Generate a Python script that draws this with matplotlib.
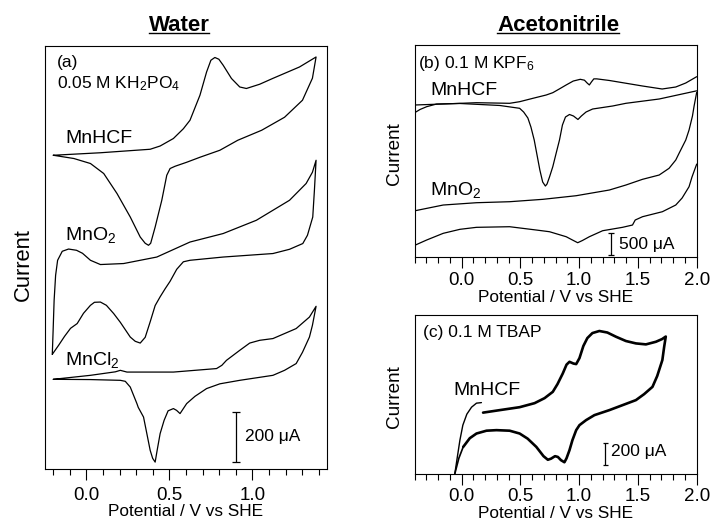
import numpy as np
import matplotlib
matplotlib.use('Agg')
import matplotlib.pyplot as plt
from matplotlib.lines import Line2D
from matplotlib.ticker import MultipleLocator, FuncFormatter

plt.rcParams['font.family'] = ['Liberation Sans', 'DejaVu Sans']
plt.rcParams['mathtext.fontset'] = 'custom'
plt.rcParams['mathtext.rm'] = 'Liberation Sans'
plt.rcParams['mathtext.it'] = 'Liberation Sans:italic'
plt.rcParams['mathtext.bf'] = 'Liberation Sans:bold'

# (E / V vs SHE, current / uA), curves stacked as drawn
# (a) water, 0.05 M KH2PO4
mnhcf_a = [(-0.200, 1256), (0.084, 1266), (0.384, 1280), (0.444, 1293), (0.524, 1323),
           (0.584, 1362), (0.624, 1396), (0.684, 1496), (0.724, 1589), (0.750, 1636),
           (0.774, 1647), (0.798, 1640), (0.824, 1616), (0.874, 1563), (0.924, 1529),
           (0.964, 1523), (1.044, 1540), (1.122, 1563), (1.284, 1609), (1.384, 1649),
           (1.362, 1564), (1.302, 1476), (1.194, 1408), (1.056, 1356), (0.912, 1316),
           (0.804, 1276), (0.684, 1248), (0.604, 1228), (0.534, 1212), (0.504, 1203),
           (0.484, 1176), (0.454, 1076), (0.414, 969), (0.387, 904), (0.374, 896),
           (0.354, 904), (0.324, 929), (0.264, 1009), (0.184, 1103), (0.104, 1183),
           (0.024, 1223), (-0.076, 1243), (-0.200, 1256)]

mno2_a = [(-0.206, 460), (-0.201, 556), (-0.195, 676), (-0.186, 776), (-0.174, 836),
          (-0.146, 872), (-0.108, 881), (-0.060, 876), (-0.024, 864), (0.024, 836),
          (0.084, 819), (0.224, 823), (0.424, 849), (0.624, 909), (0.824, 943),
          (1.024, 996), (1.224, 1076), (1.324, 1143), (1.362, 1188), (1.384, 1236),
          (1.374, 1116), (1.364, 1009), (1.332, 936), (1.304, 903), (1.224, 880),
          (1.124, 863), (0.824, 849), (0.624, 836), (0.584, 830), (0.544, 800),
          (0.504, 752), (0.474, 722), (0.444, 690), (0.414, 655), (0.384, 590),
          (0.354, 528), (0.324, 505), (0.294, 512), (0.264, 529), (0.204, 588),
          (0.164, 623), (0.120, 656), (0.084, 669), (0.048, 668), (0.024, 656),
          (-0.018, 624), (-0.056, 583), (-0.096, 564), (-0.132, 532), (-0.168, 496),
          (-0.206, 460)]

mncl2_a = [(-0.200, 360), (0.024, 376), (0.174, 390), (0.204, 396), (0.244, 389),
           (0.524, 389), (0.784, 403), (0.816, 416), (0.844, 436), (0.924, 476),
           (0.984, 505), (1.044, 516), (1.124, 523), (1.264, 563), (1.344, 609),
           (1.384, 652),
           (1.362, 576), (1.344, 529), (1.302, 468), (1.264, 423), (1.194, 396),
           (1.124, 376), (0.924, 356), (0.804, 342), (0.724, 323), (0.654, 292),
           (0.604, 263), (0.564, 223), (0.543, 236), (0.524, 243), (0.492, 234),
           (0.468, 196), (0.444, 143), (0.426, 76), (0.414, 29), (0.399, 44),
           (0.384, 76), (0.360, 156), (0.344, 209), (0.312, 248), (0.304, 263),
           (0.264, 329), (0.234, 352), (0.204, 356), (0.024, 359), (-0.200, 360)]

# (b) acetonitrile, 0.1 M KPF6 (both curves run off the plotted window)
mnhcf_b_fwd = [(-0.400, 3489), (-0.158, 3512), (0.127, 3542), (0.409, 3528), (0.494, 3565),
               (0.607, 3643), (0.720, 3719), (0.776, 3772), (0.833, 3860), (0.890, 3950),
               (0.950, 4040), (1.010, 4080), (1.045, 4060), (1.070, 3990), (1.087, 3950),
               (1.105, 4020), (1.125, 4090), (1.150, 4090), (1.257, 4053), (1.539, 3926),
               (1.706, 3857), (1.822, 3903), (1.907, 3995), (2.000, 4140)]
mnhcf_b_rev = [(2.000, 3815), (1.681, 3627), (1.398, 3528), (1.285, 3466), (1.115, 3397),
               (1.059, 3328), (1.019, 3236), (0.990, 3156), (0.952, 3236), (0.918, 3271),
               (0.884, 3213), (0.858, 3029), (0.833, 2684), (0.805, 2385), (0.776, 2070),
               (0.748, 1833), (0.727, 1672), (0.713, 1626), (0.690, 1718), (0.666, 1994),
               (0.642, 2339), (0.618, 2684), (0.590, 2983), (0.564, 3190), (0.528, 3328),
               (0.494, 3413), (0.325, 3478), (-0.014, 3524), (-0.212, 3512), (-0.297, 3450),
               (-0.353, 3386), (-0.400, 3310)]

mno2_b_fwd = [(-0.400, 1055), (-0.156, 1189), (0.127, 1242), (0.409, 1265), (0.692, 1320),
              (0.975, 1403), (1.257, 1534), (1.398, 1649), (1.539, 1780), (1.681, 1879),
              (1.765, 2033), (1.822, 2224), (1.850, 2378), (1.907, 2684), (1.935, 2914),
              (1.964, 3236), (1.978, 3466), (2.000, 3780)]
mno2_b_rev = [(2.000, 2130), (1.960, 1833), (1.935, 1610), (1.876, 1350), (1.822, 1189),
              (1.708, 1035), (1.539, 920), (1.477, 844), (1.454, 729), (1.369, 676),
              (1.200, 598), (1.087, 460), (1.028, 373), (0.988, 322), (0.935, 396),
              (0.890, 460), (0.748, 575), (0.636, 614), (0.409, 690), (0.127, 676),
              (-0.014, 630), (-0.156, 538), (-0.297, 384), (-0.400, 260)]

# (c) acetonitrile, 0.1 M TBAP
mnhcf_c_rise = [(-0.057, 6), (-0.040, 129), (-0.014, 313), (0.011, 451), (0.045, 552),
                (0.085, 616), (0.127, 653), (0.169, 658)]
mnhcf_c_loop = [(0.183, 566), (0.325, 589), (0.494, 616), (0.621, 653), (0.706, 699),
                (0.776, 757), (0.816, 828), (0.861, 926), (0.893, 1007), (0.918, 1033),
                (0.952, 1017), (0.975, 1012), (1.003, 1067), (1.036, 1178), (1.070, 1251),
                (1.113, 1297), (1.172, 1316), (1.240, 1302), (1.314, 1263), (1.398, 1224),
                (1.483, 1202), (1.568, 1193), (1.653, 1217), (1.706, 1242), (1.737, 1265),
                (1.723, 1168), (1.708, 1049), (1.664, 902), (1.624, 803), (1.553, 736),
                (1.483, 681), (1.257, 589), (1.130, 543), (1.059, 497), (1.003, 451),
                (0.975, 405), (0.943, 313), (0.918, 221), (0.893, 147), (0.875, 110),
                (0.846, 129), (0.819, 159), (0.795, 166), (0.761, 143), (0.734, 133),
                (0.697, 166), (0.636, 251), (0.562, 327), (0.494, 374), (0.409, 400),
                (0.297, 405), (0.212, 400), (0.127, 374), (0.070, 331), (0.014, 251)]
mnhcf_c_tail = [(0.014, 251), (-0.023, 147), (-0.057, 6)]

# scale bars: (E, bottom current, length in uA)
bar_a = (0.904, 30, 200)
bar_b = (1.271, 40, 500)
bar_c = (1.223, 83, 200)


def draw(ax, pts, lw=0.9):
    e, i = np.array(pts).T
    ax.plot(e, i, color='k', lw=lw, solid_joinstyle='round', solid_capstyle='round')


def style(ax, xlim, ylim, pad, labelpad):
    ax.set_xlim(xlim)
    ax.set_ylim(ylim)
    ax.set_yticks([])
    ax.xaxis.set_major_locator(MultipleLocator(0.5))
    ax.xaxis.set_minor_locator(MultipleLocator(0.1))
    ax.xaxis.set_major_formatter(FuncFormatter(lambda v, p: f'{abs(v) if abs(v) < 1e-9 else v:.1f}'))
    ax.tick_params(axis='x', which='major', direction='out', length=8, width=0.8,
                   labelsize=13.5, pad=pad)
    ax.tick_params(axis='x', which='minor', direction='out', length=4, width=0.8)
    for s in ax.spines.values():
        s.set_linewidth(0.8)
    ax.set_xlabel('Potential / V vs SHE', fontsize=12.4, labelpad=labelpad)


def scale_bar(ax, bar, text, cap, dx, dy=0):
    x, y0, h = bar
    ax.errorbar([x], [y0 + h / 2], yerr=[h / 2], color='k', lw=0.9,
                capsize=cap, capthick=0.9)
    ax.text(x + dx, y0 + h / 2 + dy, text, fontsize=12.5, ha='left', va='center')


fig = plt.figure(figsize=(7.12, 5.25), dpi=100)
ax_a = fig.add_axes([0.0632, 0.1060, 0.3961, 0.8069])
ax_b = fig.add_axes([0.5822, 0.5110, 0.3963, 0.4033])
ax_c = fig.add_axes([0.5822, 0.0967, 0.3963, 0.3033])

# panel (a)
for c in (mnhcf_a, mno2_a, mncl2_a):
    draw(ax_a, c)
style(ax_a, (-0.25, 1.45), (0, 1694), 4.5, 0)
scale_bar(ax_a, bar_a, '200 μA', 3.2, 0.05)
ax_a.text(0.041, 0.950, '(a)', transform=ax_a.transAxes, fontsize=12.5)
ax_a.text(0.041, 0.900, '0.05 M KH$_2$PO$_4$', transform=ax_a.transAxes, fontsize=12.5)
ax_a.text(0.071, 0.771, 'MnHCF', transform=ax_a.transAxes, fontsize=14)
ax_a.text(0.071, 0.541, 'MnO$_2$', transform=ax_a.transAxes, fontsize=14)
ax_a.text(0.071, 0.246, 'MnCl$_2$', transform=ax_a.transAxes, fontsize=14)

# panel (b)
for c in (mnhcf_b_fwd, mnhcf_b_rev, mno2_b_fwd, mno2_b_rev):
    draw(ax_b, c)
style(ax_b, (-0.4, 2.0), (0, 4869), 3, 0.4)
scale_bar(ax_b, bar_b, '500 μA', 2.0, 0.07)
ax_b.text(0.0135, 0.891, '(b) 0.1 M KPF$_6$', transform=ax_b.transAxes, fontsize=12.5)
ax_b.text(0.055, 0.764, 'MnHCF', transform=ax_b.transAxes, fontsize=14)
ax_b.text(0.055, 0.292, 'MnO$_2$', transform=ax_b.transAxes, fontsize=14)

# panel (c)
draw(ax_c, mnhcf_c_rise, lw=1.0)
draw(ax_c, mnhcf_c_loop, lw=1.9)
draw(ax_c, mnhcf_c_tail, lw=1.2)
style(ax_c, (-0.4, 2.0), (0, 1463), 2, 0.4)
scale_bar(ax_c, bar_c, '200 μA', 1.8, 0.05, 30)
ax_c.text(0.031, 0.8635, '(c) 0.1 M TBAP', transform=ax_c.transAxes, fontsize=12.5)
ax_c.text(0.137, 0.497, 'MnHCF', transform=ax_c.transAxes, fontsize=14)

# y labels
fig.text(23 / 712, 1 - 265 / 525, 'Current', rotation=90, ha='center', va='center', fontsize=15.8)
fig.text(395 / 712, 1 - 153.5 / 525, 'Current', rotation=90, ha='center', va='center', fontsize=13.6)
fig.text(395 / 712, 1 - 397 / 525, 'Current', rotation=90, ha='center', va='center', fontsize=13.6)

# underlined column titles
titles = [fig.text(179 / 712, 1 - 31 / 525, 'Water', ha='center', va='baseline',
                   fontsize=16, fontweight='bold'),
          fig.text(558 / 712, 1 - 31 / 525, 'Acetonitrile', ha='center', va='baseline',
                   fontsize=16, fontweight='bold')]
fig.canvas.draw()
for t in titles:
    bb = t.get_window_extent().transformed(fig.transFigure.inverted())
    fig.add_artist(Line2D([bb.x0, bb.x1], [1 - 33.2 / 525] * 2, color='k', lw=1.0,
                          transform=fig.transFigure))

fig.savefig('out.png', dpi=100)
